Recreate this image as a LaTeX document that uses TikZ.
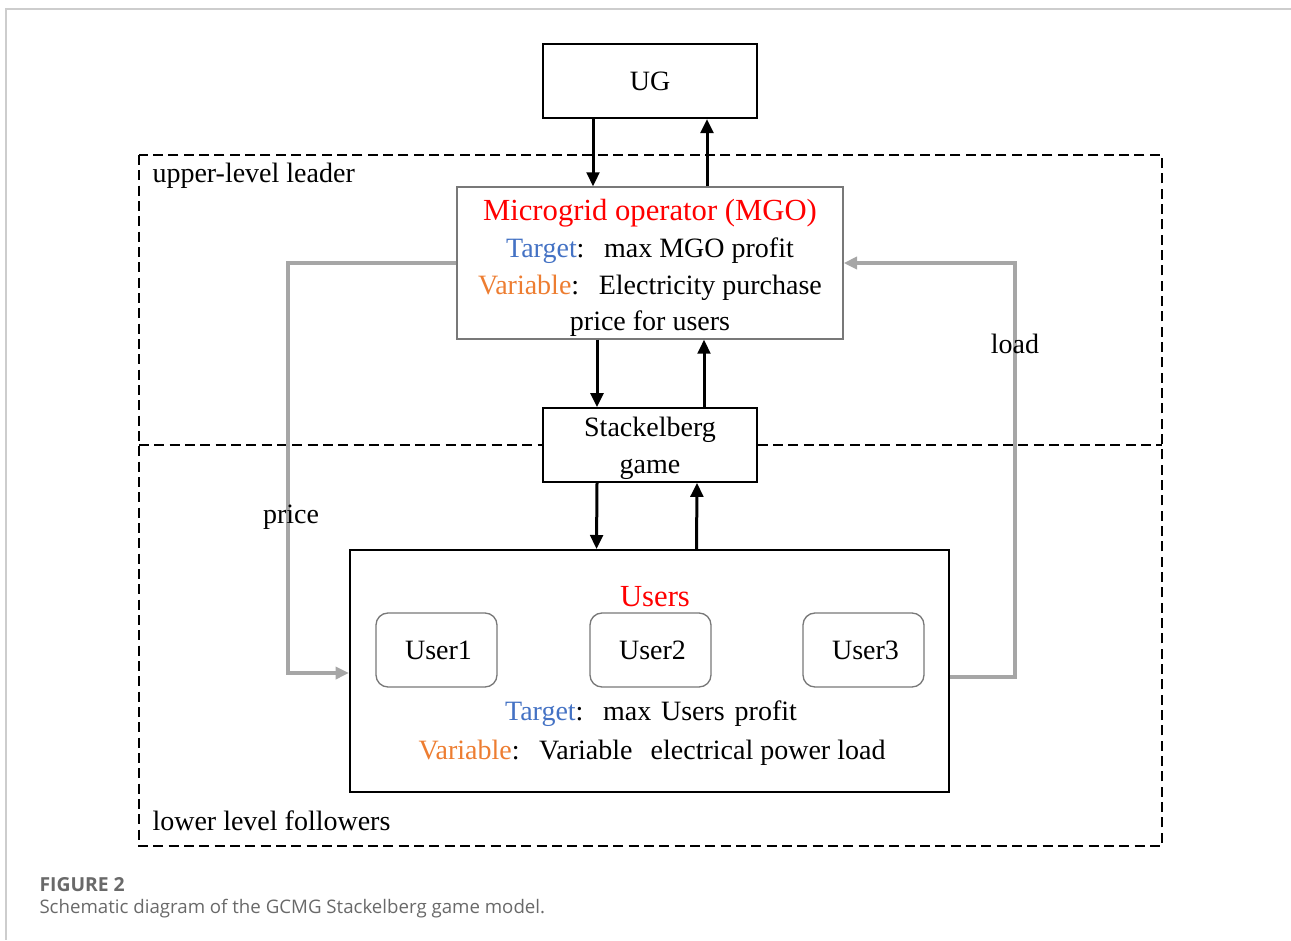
\documentclass[tikz,border=0pt]{standalone}
\usepackage{fontspec}
\setmainfont{Liberation Serif}
\newfontfamily\capfont{Open Sans}
\usetikzlibrary{arrows.meta}

\definecolor{titlered}{RGB}{255,0,0}
\definecolor{tgtblue}{RGB}{68,114,196}
\definecolor{varorange}{RGB}{237,125,49}
\definecolor{flowgray}{RGB}{166,166,166}
\definecolor{boxgray}{RGB}{120,120,120}
\definecolor{capgray}{RGB}{105,105,105}
\definecolor{framegray}{RGB}{205,205,205}

\newcommand{\fcolon}{:\hspace{0.7em}}

\tikzset{every picture/.style={line width=0.75pt}}
\tikzset{
  box/.style={draw, line width=1.5pt, minimum width=160.5pt, minimum height=55.5pt, inner sep=0pt, align=center, font=\fontsize{21}{27.5}\selectfont},
  usrbox/.style={draw=boxgray, line width=1pt, rounded corners=9pt, minimum width=90.75pt, minimum height=55.5pt, inner sep=0pt, font=\fontsize{21}{27}\selectfont},
  txt/.style={inner sep=0pt, align=center, font=\fontsize{21}{27.5}\selectfont},
  title/.style={inner sep=0pt, text=titlered, font=\fontsize{23}{27}\selectfont},
  levelframe/.style={line width=1.5pt, dash pattern=on 7.5pt off 4pt},
  arr/.style={line width=2.25pt, -{Triangle[length=10.5pt,width=9.5pt]}},
  feedback/.style={flowgray, line width=2.5pt, -{Triangle[length=10pt,width=9pt]}},
}

\begin{document}
\begin{tikzpicture}[x=0.75pt,y=0.75pt,yscale=-1,xscale=1]
\useasboundingbox (0,0) rectangle (1291,940);

%Shape: page frame
\draw [framegray, line width=1.2pt] (1291,9) -- (6,9) -- (6,940);

%Shape: dashed level frame
\draw [levelframe] (139,155) rectangle (1162,846);
\coordinate (midL) at (139,445);
\coordinate (midR) at (1162,445);

%Shape: Rectangle [UG]
\node [box] (ug) at (650,81) {UG};
%Shape: Rectangle [MGO]
\node [box, draw=boxgray, line width=1pt, minimum width=289.5pt, minimum height=114pt] (mgo) at (650,263) {};
%Shape: Rectangle [game]
\node [box, line width=1.2pt] (game) at (650,445) {};
%Shape: Rectangle [Users]
\node [box, minimum width=449.25pt, minimum height=181.5pt] (users) at (649.5,671) {};

%Shape: Rounded Rectangle
\node [usrbox] (user1) at (436.5,650) {\hspace{3pt}User1};
\node [usrbox] (user2) at (650.5,650) {\hspace{3pt}User2};
\node [usrbox] (user3) at (863.5,650) {\hspace{3pt}User3};

% Text Node
\node [txt] (mgotext) at (650,268) {%
{\fontsize{23}{27.5}\selectfont\textcolor{titlered}{Microgrid operator (MGO)}}\\
\textcolor{tgtblue}{Target}\fcolon max MGO profit\\
\textcolor{varorange}{Variable}\fcolon Electricity purchase\\
price for users};
% Text Node
\node [txt] (gametext) at (650,448) {Stackelberg\\game};
% Text Node
\node [title] (userstitle) at (655,597) {Users};
% Text Node
\node [txt] (usertarget) at (651,714) {\textcolor{tgtblue}{Target}\fcolon max\hspace{0.1em} Users\hspace{0.1em} profit};
% Text Node
\node [txt] (uservar) at (652,753) {\textcolor{varorange}{Variable}\fcolon Variable\hspace{0.4em} electrical power load};

%Straight Lines [level split]
\draw [levelframe] (midL) -- (game.west);
\draw [levelframe] (game.east) -- (midR);

%Straight Lines [with arrow]
\draw [arr] ([xshift=-42.75pt]ug.south) -- ([xshift=-42.75pt]mgo.north);
\draw [arr] ([xshift=42.75pt]mgo.north) -- ([xshift=42.75pt]ug.south);
\draw [arr] ([xshift=-39.75pt]mgo.south) -- ([xshift=-39.75pt]game.north);
\draw [arr] ([xshift=40.5pt]game.north) -- ([xshift=40.5pt]mgo.south);
\draw [arr] ([xshift=-39.75pt]game.south) -- ([xshift=-39.75pt]users.north);
\draw [arr] ([xshift=35.25pt]users.north) -- ([xshift=35.25pt]game.south);

%Connector [price]
\draw [feedback] (mgo.west) -| (288,673) -- ([yshift=1.5pt]users.west);
%Connector [load]
\draw [feedback] ([yshift=4.5pt]users.east) -| (1015,263) -- (mgo.east);

% Text Node
\node [txt] (pricelbl) at (291,517) {price};
% Text Node
\node [txt] (loadlbl) at (1015,344) {load};
% Text Node
\node [txt, anchor=west] (upperlbl) at (152,176) {upper-level leader};
% Text Node
\node [txt, anchor=west] (lowerlbl) at (152,821) {lower level followers};

% Text Node
\node [anchor=west, inner sep=0pt, text=capgray, font=\capfont\bfseries\fontsize{14.5}{17}\selectfont] (figno) at (39,885) {FIGURE 2};
% Text Node
\node [anchor=west, inner sep=0pt, text=capgray, font=\capfont\fontsize{14}{17}\selectfont] (figcap) at (39,909) {Schematic diagram of the GCMG Stackelberg game model.};

\end{tikzpicture}
\end{document}
